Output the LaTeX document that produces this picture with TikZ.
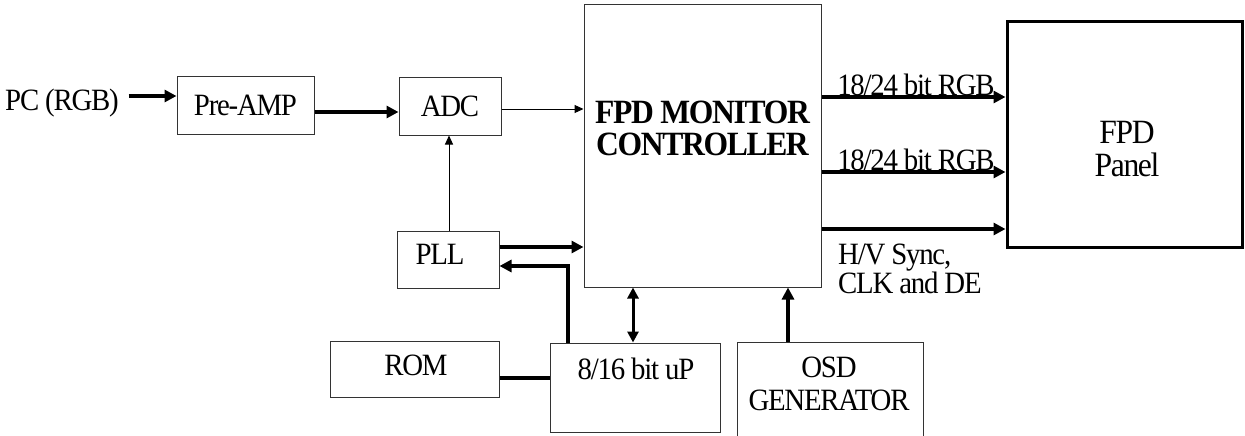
\documentclass[tikz,border=0pt]{standalone}
\usepackage{fontspec}
\setmainfont{Liberation Serif}[FakeStretch=0.93,LetterSpace=-4]
\usetikzlibrary{arrows.meta}
\begin{document}
\begin{tikzpicture}[x=1pt,y=-1pt,
  blk/.style={draw=black!80,line width=1pt,inner sep=0pt,align=center,font=\fontsize{31}{33}\selectfont},
  txt/.style={inner sep=0pt,align=center,font=\fontsize{31}{33}\selectfont},
  thinarrow/.style={line width=1pt,-{Triangle[length=9pt,width=8pt]}},
  thickarrow/.style={line width=4pt,-{Triangle[length=12pt,width=12pt]}},
  thickline/.style={line width=4pt}]
\useasboundingbox (0,0) rectangle (1245,436);
% boxes
\node[blk,minimum width=137pt,minimum height=57pt] (pre) at (245.5,105.5) {Pre-AMP};
\node[blk,minimum width=102pt,minimum height=57pt] (adc) at (450,106.5) {ADC};
\node[blk,minimum width=237pt,minimum height=282pt] (fpd) at (702.5,146) {};
\node[blk,minimum width=102pt,minimum height=57pt] (pll) at (448,259.5) {};
\node[blk,minimum width=169pt,minimum height=56pt] (rom) at (414.5,369) {};
\node[blk,minimum width=170pt,minimum height=89pt] (up) at (635,387.5) {};
\node[blk,minimum width=186pt,minimum height=106pt] (osd) at (830,395) {};
\node[draw=black,line width=3pt,minimum width=235pt,minimum height=225pt] (panel) at (1124.5,134.5) {};
% texts
\node[txt,inner sep=9.7pt] (pc) at (62,103) {PC (RGB)};
\node[txt] (plltext) at (440,254) {PLL};
\node[txt] (romtext) at (416,365) {ROM};
\node[txt] (uptext) at (636,369) {8/16 bit uP};
\node[txt] (osdtext) at (829,383.5) {OSD\\GENERATOR};
\node[txt,font=\bfseries\fontsize{34}{32}\selectfont] (fpdtext) at (702.5,128) {FPD MONITOR\\CONTROLLER};
\node[txt,font=\fontsize{34}{33}\selectfont] (paneltext) at (1127,149) {FPD\\Panel};
\node[txt] (rgb1) at (916,85) {18/24 bit RGB};
\node[txt] (rgb2) at (916,160) {18/24 bit RGB};
\node[txt,anchor=west,align=left,font=\fontsize{31}{27}\selectfont] (sync) at (838,268.5) {H/V Sync,\\CLK and DE};
% connectors
\draw[thickarrow] (pc.east |- 0,96) -- (pre.west |- 0,96);
\draw[thickarrow] (pre.east |- 0,112) -- (adc.west |- 0,112);
\draw[thinarrow] (adc.east |- 0,109) -- (fpd.west |- 0,109);
\draw[thinarrow] (pll.north -| 449,0) -- (adc.south -| 449,0);
\draw[thickarrow] (pll.east |- 0,247) -- (fpd.west |- 0,247);
\draw[thickarrow] (up.north -| 568,0) |- (pll.east |- 0,266);
\draw[thickline] (rom.east |- 0,378) -- (up.west |- 0,378);
\draw[line width=3pt,{Triangle[length=11pt,width=11pt]}-{Triangle[length=11pt,width=11pt]}] (up.north -| 633,0) -- (fpd.south -| 633,0);
\draw[thickarrow] (osd.north -| 788,0) -- (fpd.south -| 788,0);
\draw[thickarrow] (fpd.east |- 0,97) -- (panel.west |- 0,97);
\draw[thickarrow] (fpd.east |- 0,172) -- (panel.west |- 0,172);
\draw[thickarrow] (fpd.east |- 0,229) -- (panel.west |- 0,229);
\end{tikzpicture}
\end{document}
